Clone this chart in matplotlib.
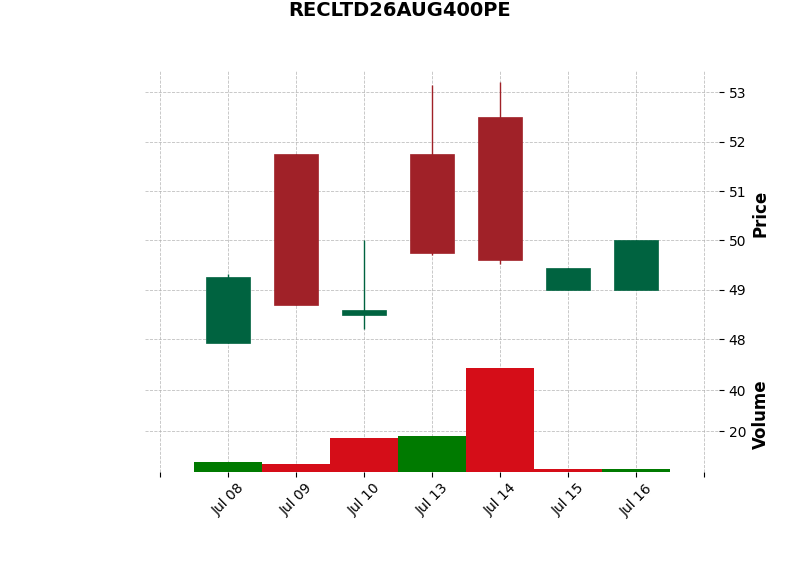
import matplotlib
matplotlib.use('Agg')

import matplotlib.pyplot as plt
import numpy as np

# data
dates = ["Jul 08", "Jul 09", "Jul 10", "Jul 13", "Jul 14", "Jul 15", "Jul 16"]
opens = [47.92, 51.75, 48.50, 51.75, 52.50, 49.00, 49.00]
highs = [49.32, 51.75, 50.00, 53.15, 53.20, 49.45, 50.00]
lows = [47.92, 48.70, 48.20, 49.70, 49.52, 49.00, 49.00]
closes = [49.25, 48.70, 48.60, 49.75, 49.60, 49.45, 50.00]
volumes = [5, 4, 17, 18, 51, 2, 2]

title = "RECLTD26AUG400PE"

up_color = "#006340"
down_color = "#A02128"
vol_up = "#007a00"
vol_down = "#d50d18"

x = np.arange(len(dates))
o = np.array(opens)
c = np.array(closes)

fig = plt.figure(figsize=(8, 5.75), dpi=100)
W, H = 800, 575
left, right = 145, 719
ax1 = fig.add_axes([left / W, (H - 357) / H, (right - left) / W, (357 - 70) / H])
ax2 = fig.add_axes([left / W, (H - 471.5) / H, (right - left) / W, (471.5 - 357) / H], sharex=ax1)

# candles
cols = [up_color if cl >= op else down_color for op, cl in zip(o, c)]
ax1.vlines(x, lows, highs, colors=cols, linewidth=1, zorder=2)
ax1.bar(x, np.abs(c - o), bottom=np.minimum(o, c), width=0.66, color=cols,
        edgecolor=cols, linewidth=0.5, zorder=3)

# volume coloured by close vs previous close
prev = np.concatenate([[c[0] - 1], c[:-1]])
vcols = [vol_up if cl >= p else vol_down for cl, p in zip(c, prev)]
ax2.bar(x, volumes, width=1.0, color=vcols, linewidth=0, zorder=3)

for ax in (ax1, ax2):
    for s in ax.spines.values():
        s.set_visible(False)
    ax.grid(True, linestyle="--", color="#b0b0b0", linewidth=0.6, alpha=0.8)
    ax.set_axisbelow(True)
    ax.yaxis.tick_right()
    ax.yaxis.set_label_position("right")
    ax.tick_params(labelsize=10)

ax1.set_xlim(-1.22, 7.22)
ax1.set_ylim(47.64, 53.45)
ax1.set_yticks([48, 49, 50, 51, 52, 53])
ax1.set_ylabel("Price", fontsize=12, fontweight="bold")
ax1.tick_params(axis="x", bottom=False, labelbottom=False)

ax2.set_ylim(0.3 * min(volumes), 1.1 * max(volumes))
ax2.set_yticks([20, 40])
ax2.set_ylabel("Volume", fontsize=12, fontweight="bold")
ax2.set_xticks(np.arange(-1, len(dates) + 1))
ax2.set_xticklabels([""] + dates + [""], rotation=45, ha="center")

fig.text(0.5, 1 - 11 / H, title, ha="center", va="center", fontsize=14, fontweight="bold")

plt.savefig("out.png")
plt.close()
